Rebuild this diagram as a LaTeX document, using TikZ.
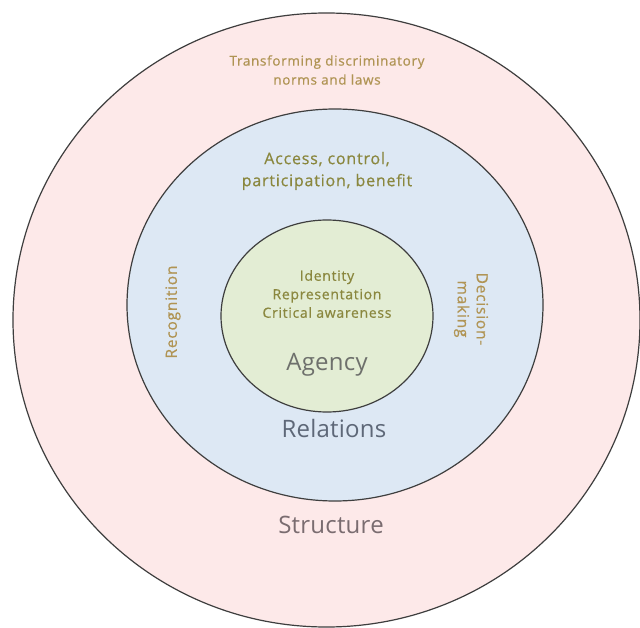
\documentclass[tikz,border=0pt]{standalone}
\usepackage{fontspec}
\setmainfont{Open Sans}
\newfontfamily\lblfont[LetterSpace=5, FakeBold=0.6]{Open Sans}
\newfontfamily\bigfont[LetterSpace=1]{Open Sans}
\usetikzlibrary{shapes.geometric}
\definecolor{ringline}{HTML}{3E3E3E}
\definecolor{structfill}{HTML}{FDE9E9}
\definecolor{relfill}{HTML}{DDE8F4}
\definecolor{agfill}{HTML}{E3EDD4}
\definecolor{goldtext}{HTML}{B09454}
\definecolor{olivetext}{HTML}{8A873E}
\definecolor{agencytext}{HTML}{6E706C}
\definecolor{reltext}{HTML}{5E6878}
\definecolor{structtext}{HTML}{7A6C70}
\tikzset{
  ring/.style={ellipse, draw=ringline, line width=1.2pt, inner sep=0pt},
  biglabel/.style={font=\bigfont\fontsize{24}{28}\selectfont}
}
\begin{document}
\begin{tikzpicture}[x=1pt,y=-1pt]
\useasboundingbox (0,0) rectangle (640,628);
\fill[white] (0,0) rectangle (640,628);

% concentric rings
\node[ring, fill=structfill, minimum width=627pt, minimum height=614pt] (structure) at (326.5,320) {};
\node[ring, fill=relfill, minimum width=416pt, minimum height=392pt] (relations) at (335,305) {};
\node[ring, fill=agfill, minimum width=212pt, minimum height=192pt] (agency) at (327,316) {};

% outer ring texts
\node[align=center, text=goldtext, font=\lblfont\fontsize{13.5}{19}\selectfont] (laws) at (327,70) {Transforming discriminatory\\norms and laws};
\node[biglabel, text=structtext] (structlbl) at (331,525) {Structure};

% middle ring texts
\node[align=center, text=olivetext, font=\lblfont\fontsize{16}{22}\selectfont] (access) at (327,171) {Access, control,\\participation, benefit};
\node[text=goldtext, font=\lblfont\fontsize{15.5}{17}\selectfont, rotate=90] (recog) at (173,312) {Recognition};
\node[align=center, text=goldtext, font=\lblfont\fontsize{15.5}{19}\selectfont, rotate=-90] (decision) at (471,309) {Decision-\\making};
\node[biglabel, text=reltext] (rellbl) at (334,428) {Relations};

% inner ring texts
\node[align=center, text=olivetext, font=\lblfont\fontsize{14}{18.5}\selectfont] (identity) at (327,294) {Identity\\Representation\\Critical awareness};
\node[biglabel, text=agencytext] (aglbl) at (327,365) {Agency};
\end{tikzpicture}
\end{document}
